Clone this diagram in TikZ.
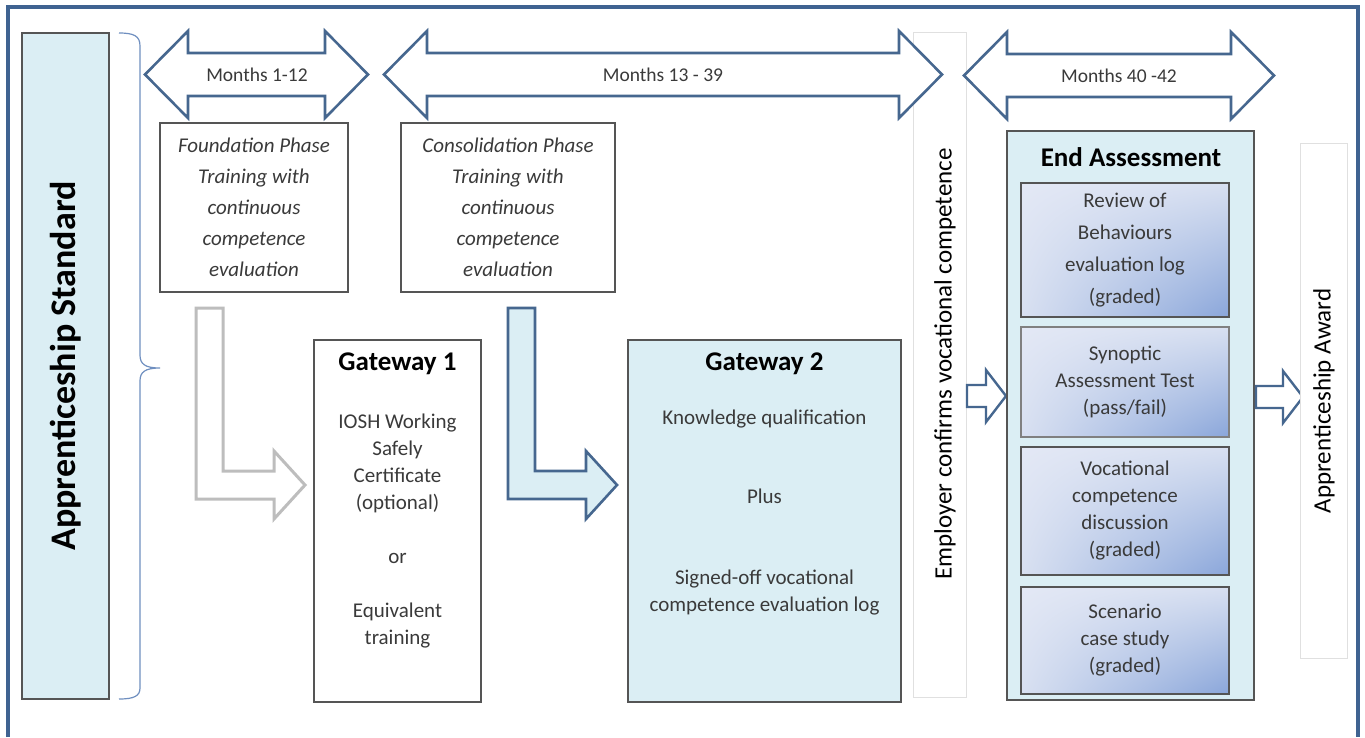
\documentclass[tikz,border=0pt]{standalone}
\usepackage{fontspec}
\setmainfont{Carlito}
\usetikzlibrary{calc,shadings}
\definecolor{frameblue}{HTML}{3F6391}
\definecolor{arrowblue}{HTML}{46678F}
\definecolor{lightaqua}{HTML}{DBEEF4}
\definecolor{boxgray}{HTML}{555555}
\definecolor{txtgray}{HTML}{3A3A3A}
\definecolor{lav}{HTML}{E3E8F5}
\definecolor{lavmid}{HTML}{D8E0F1}
\definecolor{lavblue}{HTML}{8AA6DA}
\definecolor{bracecol}{HTML}{6F8FC0}
\definecolor{stripgray}{HTML}{E0E0E0}
\definecolor{arrowgray}{HTML}{BDBDBD}
\begin{document}
\begin{tikzpicture}[x=1pt,y=-1pt,
  every node/.style={inner sep=0pt, outer sep=0pt},
  box/.style={draw=boxgray, line width=1.2pt, align=center, text=txtgray, anchor=north west},
  strip/.style={draw=stripgray, line width=1pt, fill=white, anchor=north west},
  subbox/.style={draw=boxgray, line width=1.3pt, anchor=north west, align=center, text=txtgray,
     shade, upper left=lav, upper right=lavmid, lower left=lavmid, lower right=lavblue,
     minimum width=208, font={\fontsize{21}{27}\selectfont}},
  dblarrow/.style={draw=arrowblue, line width=2.6pt, line join=miter, fill=white},
  blockarrow/.style={draw=arrowblue, line width=2.4pt, line join=miter, fill=white},
  monthlbl/.style={text=txtgray, font={\fontsize{19.5}{24}\selectfont}},
  phasetxt/.style={font={\itshape\fontsize{21}{31}\selectfont}},
  bodytxt/.style={align=center, text=txtgray, font={\fontsize{21}{27}\selectfont}},
  titletxt/.style={text=black, font={\bfseries\fontsize{27}{32}\selectfont}},
]
\useasboundingbox (0,0) rectangle (1365,737);
\fill[white] (0,0) rectangle (1365,737);

% outer frame
\draw[frameblue, line width=4pt] (8,737) -- (8,7) -- (1358,7) -- (1358,737);

% Apprenticeship Standard
\node[box, fill=lightaqua, minimum width=87, minimum height=666] (std) at (22,33) {};
\node[rotate=90, text=black, font={\bfseries\fontsize{36}{40}\selectfont}] (stdtxt) at (std.center) {Apprenticeship Standard};

% brace
\draw[bracecol, line width=1.2pt] (119,33) .. controls (134,33) and (140,36) .. (140,46) -- (140,355)
  .. controls (140,364) and (145,368) .. (160,368) .. controls (145,368) and (140,372) .. (140,381)
  -- (140,688) .. controls (140,696) and (134,699) .. (119,699);

% Employer strip (drawn beneath the arrows)
\node[strip, minimum width=53, minimum height=665] (emp) at (913,32) {};
\node[rotate=90, text=black, font={\fontsize{25}{30}\selectfont}] (emptxt) at (945,364) {Employer confirms vocational competence};

% double arrows
\draw[dblarrow] (145,74.5) -- (188,31) -- (188,53) -- (325,53) -- (325,31) -- (368,74.5) -- (325,118) -- (325,96) -- (188,96) -- (188,118) -- cycle;
\node[monthlbl] (m1) at (257,74.5) {Months 1-12};
\draw[dblarrow] (384,74.5) -- (427,31) -- (427,53) -- (899,53) -- (899,31) -- (942,74.5) -- (899,118) -- (899,96) -- (427,96) -- (427,118) -- cycle;
\node[monthlbl] (m2) at (663,74.5) {Months 13 - 39};
\draw[dblarrow] (964,75.5) -- (1007,32) -- (1007,54) -- (1231,54) -- (1231,32) -- (1274,75.5) -- (1231,119) -- (1231,97) -- (1007,97) -- (1007,119) -- cycle;
\node[monthlbl] (m3) at (1119,76) {Months 40 -42};

% phase boxes
\node[box, minimum width=188, minimum height=169, phasetxt] (found) at (160,123)
  {Foundation Phase\\Training with\\continuous\\competence\\evaluation};
\node[box, minimum width=214, minimum height=169, phasetxt] (consol) at (401,123)
  {Consolidation Phase\\Training with\\continuous\\competence\\evaluation};

% Gateway 1
\node[box, fill=white, minimum width=167, minimum height=362] (gw1) at (314,340) {};
\node[titletxt] (gw1t) at (397.5,364) {Gateway 1};
\node[bodytxt] (gw1b) at (397.5,531) {IOSH Working\\Safely\\Certificate\\(optional)\\[27pt]or\\[27pt]Equivalent\\training};

% Gateway 2
\node[box, fill=lightaqua, minimum width=273, minimum height=362] (gw2) at (628,340) {};
\node[titletxt] (gw2t) at (764.5,364) {Gateway 2};
\node[bodytxt] (gw2a) at (764.5,419) {Knowledge qualification};
\node[bodytxt] (gw2b) at (764.5,496) {Plus};
\node[bodytxt] (gw2c) at (764.5,593) {Signed-off vocational\\competence evaluation log};

% bent arrows
\draw[draw=arrowgray, fill=white, line width=3pt, line join=miter]
  (196,308) -- (223,308) -- (223,471) -- (274,471) -- (274,451) -- (305,485) -- (274,519) -- (274,499) -- (196,499) -- cycle;
\draw[draw=arrowblue, fill=lightaqua, line width=2.6pt, line join=miter]
  (508,308) -- (535,308) -- (535,471) -- (586,471) -- (586,451) -- (617,485) -- (586,519) -- (586,499) -- (508,499) -- cycle;

% arrow into End Assessment
\draw[blockarrow] (967,385) -- (986,385) -- (986,370) -- (1006,396) -- (986,422) -- (986,407) -- (967,407) -- cycle;

% End Assessment
\node[box, fill=lightaqua, minimum width=247, minimum height=569] (ea) at (1007,131) {};
\node[titletxt] (eat) at (1131,157) {End Assessment};
\node[subbox, minimum height=134, font={\fontsize{21}{32}\selectfont}] (s1) at (1021,183) {Review of\\Behaviours\\evaluation log\\(graded)};
\node[subbox, minimum height=110, draw=gray, line width=2.6pt] (s2) at (1021,327) {Synoptic\\Assessment Test\\(pass/fail)};
\node[subbox, minimum height=128] (s3) at (1021,447) {Vocational\\competence\\discussion\\(graded)};
\node[subbox, minimum height=107] (s4) at (1021,587) {Scenario\\case study\\(graded)};

% arrow into Award
\draw[blockarrow] (1256,386) -- (1283,386) -- (1283,371) -- (1303,397) -- (1283,423) -- (1283,408) -- (1256,408) -- cycle;

% Award strip
\node[strip, minimum width=47, minimum height=515] (award) at (1300,143) {};
\node[rotate=90, text=black, font={\fontsize{25}{30}\selectfont}] (awardtxt) at (1324,401) {Apprenticeship Award};
\end{tikzpicture}
\end{document}
